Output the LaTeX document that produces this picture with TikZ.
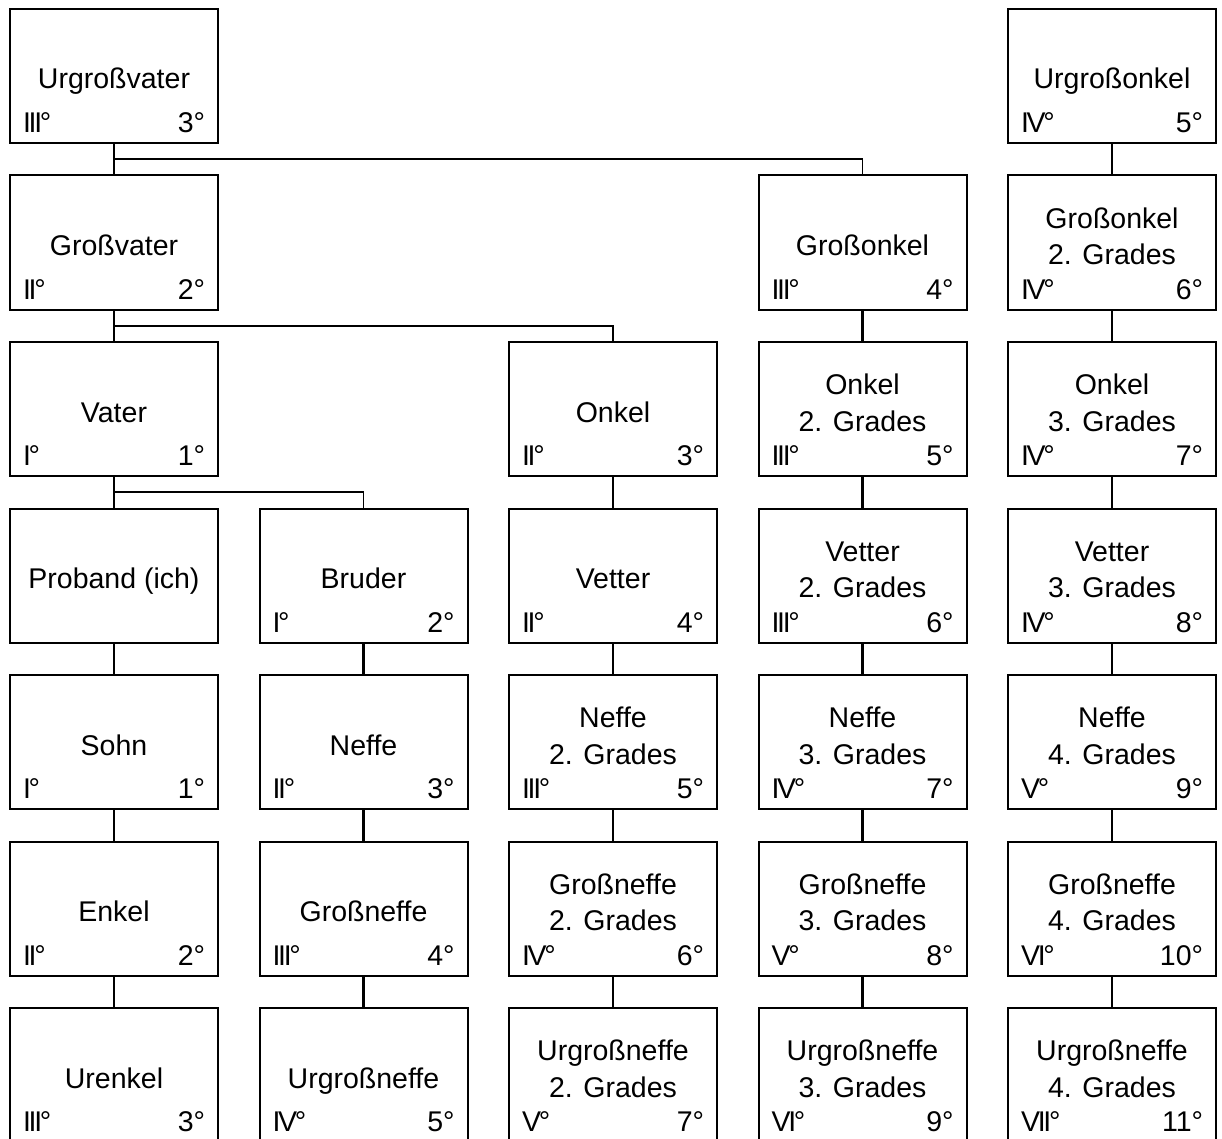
\documentclass[tikz,border=0pt]{standalone}
\usepackage{fontspec}
\setmainfont{Liberation Sans}
\usetikzlibrary{calc}

\tikzset{
  relbox/.style={draw, line width=2pt, minimum width=208pt, minimum height=134pt,
                 inner sep=0pt, outer sep=0pt, anchor=north west},
  txt/.style={inner sep=0pt, outer sep=0pt, anchor=base,
              font=\fontsize{28.5}{34}\selectfont},
  roman/.style={txt, anchor=base west,
              font=\fontsize{28.5}{34}\selectfont\addfontfeatures{LetterSpace=-8}},
  stem/.style={line width=2.8pt},
  branch/.style={line width=1.9pt},
}

% \relbox{name}{column}{row}{line 1}{line 2}{Roman degree}{Arabic degree}
\newcommand\relbox[7]{%
  \node[relbox] (#1) at ({10+(#2-1)*249.5},{9+(#3-1)*166.5}) {};
  \if\relax\detokenize{#5}\relax
    \node[txt] at ($(#1.north)+(0,80)$) {#4};
  \else
    \node[txt] at ($(#1.north)+(0,52.6)$) {#4};
    \node[txt] at ($(#1.north)+(0,89.3)$) {#5};
  \fi
  \node[roman] at ($(#1.south west)+(13,-10.5)$) {#6};
  \node[txt, anchor=base east] at ($(#1.south east)+(-13,-10.5)$) {#7};
}

\begin{document}
\begin{tikzpicture}[x=1pt, y=-1pt]
  \useasboundingbox (0,0) rectangle (1222,1139);
  \clip (0,0) rectangle (1222,1139);

  % direct line
  \relbox{a1}{1}{1}{Urgroßvater}{}{III°}{3°}
  \relbox{a2}{1}{2}{Großvater}{}{II°}{2°}
  \relbox{a3}{1}{3}{Vater}{}{I°}{1°}
  \relbox{a4}{1}{4}{Proband (ich)}{}{}{}
  \relbox{a5}{1}{5}{Sohn}{}{I°}{1°}
  \relbox{a6}{1}{6}{Enkel}{}{II°}{2°}
  \relbox{a7}{1}{7}{Urenkel}{}{III°}{3°}

  % siblings
  \relbox{b4}{2}{4}{Bruder}{}{I°}{2°}
  \relbox{b5}{2}{5}{Neffe}{}{II°}{3°}
  \relbox{b6}{2}{6}{Großneffe}{}{III°}{4°}
  \relbox{b7}{2}{7}{Urgroßneffe}{}{IV°}{5°}

  % descendants of the grandfather
  \relbox{c3}{3}{3}{Onkel}{}{II°}{3°}
  \relbox{c4}{3}{4}{Vetter}{}{II°}{4°}
  \relbox{c5}{3}{5}{Neffe}{2. Grades}{III°}{5°}
  \relbox{c6}{3}{6}{Großneffe}{2. Grades}{IV°}{6°}
  \relbox{c7}{3}{7}{Urgroßneffe}{2. Grades}{V°}{7°}

  % descendants of the great-grandfather
  \relbox{d2}{4}{2}{Großonkel}{}{III°}{4°}
  \relbox{d3}{4}{3}{Onkel}{2. Grades}{III°}{5°}
  \relbox{d4}{4}{4}{Vetter}{2. Grades}{III°}{6°}
  \relbox{d5}{4}{5}{Neffe}{3. Grades}{IV°}{7°}
  \relbox{d6}{4}{6}{Großneffe}{3. Grades}{V°}{8°}
  \relbox{d7}{4}{7}{Urgroßneffe}{3. Grades}{VI°}{9°}

  % separate line of the great-granduncle
  \relbox{e1}{5}{1}{Urgroßonkel}{}{IV°}{5°}
  \relbox{e2}{5}{2}{Großonkel}{2. Grades}{IV°}{6°}
  \relbox{e3}{5}{3}{Onkel}{3. Grades}{IV°}{7°}
  \relbox{e4}{5}{4}{Vetter}{3. Grades}{IV°}{8°}
  \relbox{e5}{5}{5}{Neffe}{4. Grades}{V°}{9°}
  \relbox{e6}{5}{6}{Großneffe}{4. Grades}{VI°}{10°}
  \relbox{e7}{5}{7}{Urgroßneffe}{4. Grades}{VII°}{11°}

  % vertical descent within each column
  \foreach \c/\from/\to in {a/1/7, b/4/7, c/3/7, d/2/7, e/1/7} {
    \pgfmathtruncatemacro\last{\to-1}
    \foreach \r in {\from,...,\last} {
      \pgfmathtruncatemacro\nxt{\r+1}
      \draw[stem] (\c\r.south) -- (\c\nxt.north);
    }
  }

  % side branches
  \draw[branch] ($(a1.south)!0.5!(a2.north)$) -| (d2.north);
  \draw[branch] ($(a2.south)!0.5!(a3.north)$) -| (c3.north);
  \draw[branch] ($(a3.south)!0.5!(a4.north)$) -| (b4.north);
\end{tikzpicture}
\end{document}
